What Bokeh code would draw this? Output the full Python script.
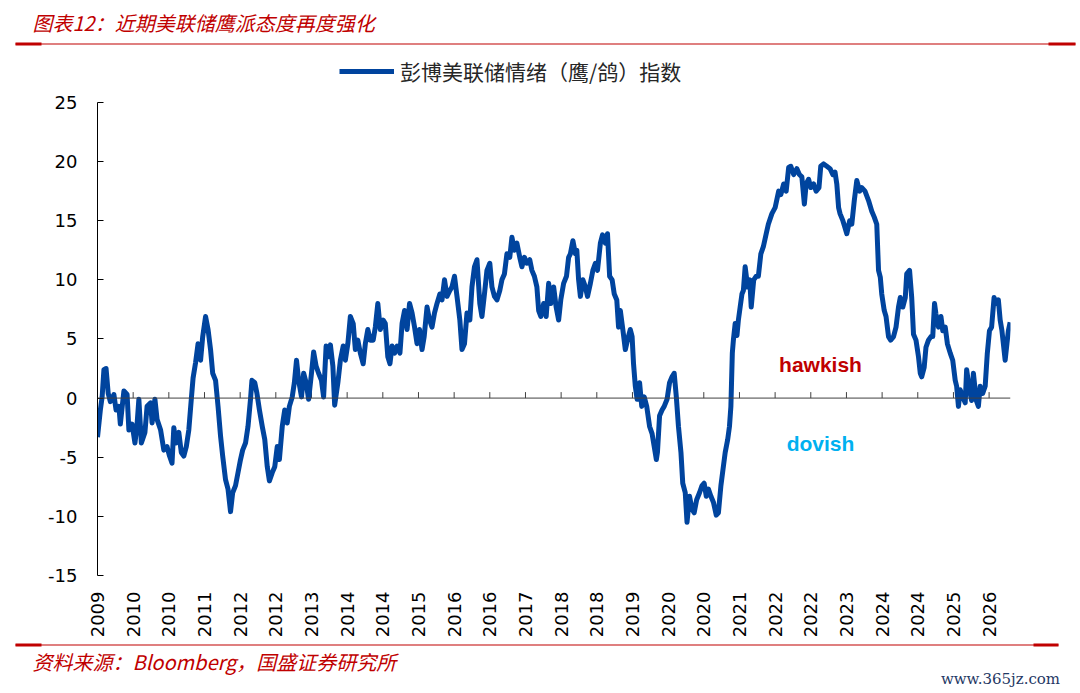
from math import pi
from bokeh.plotting import figure
from bokeh.layouts import column
from bokeh.models import (LinearAxis, FixedTicker, Label, BoxAnnotation, Span,
                          Legend, LegendItem, Range1d)
from bokeh.embed import file_html
from bokeh.resources import INLINE

# 横轴标签（与原图一致，存在重复年份）
x_labels = ["2009", "2010", "2010", "2011", "2012", "2012", "2013", "2014", "2014",
            "2015", "2016", "2016", "2017", "2018", "2018", "2019", "2020", "2020",
            "2021", "2022", "2022", "2023", "2024", "2024", "2025", "2026"]
y_ticks = [-15, -10, -5, 0, 5, 10, 15, 20, 25]

# 彭博美联储情绪指数：位置（以横轴标签间隔为单位）与数值
t_pos = [0.00, 0.08, 0.13, 0.18, 0.24, 0.30, 0.36, 0.46, 0.52, 0.60, 0.64, 0.74, 0.83, 0.88, 0.97,
         1.05, 1.11, 1.16, 1.23, 1.33, 1.39, 1.49, 1.53, 1.61, 1.67, 1.77, 1.86, 1.95, 2.02, 2.09,
         2.14, 2.20, 2.28, 2.35, 2.42, 2.49, 2.56, 2.63, 2.68, 2.75, 2.82, 2.89, 2.95, 3.03, 3.10,
         3.17, 3.23, 3.31, 3.38, 3.45, 3.51, 3.59, 3.66, 3.73, 3.79, 3.87, 3.94, 4.01, 4.07, 4.15,
         4.22, 4.29, 4.33, 4.41, 4.47, 4.54, 4.62, 4.69, 4.76, 4.82, 4.90, 4.97, 5.04, 5.10, 5.18,
         5.25, 5.32, 5.38, 5.46, 5.52, 5.58, 5.64, 5.72, 5.78, 5.85, 5.92, 6.00, 6.06, 6.13, 6.20,
         6.28, 6.34, 6.41, 6.48, 6.53, 6.60, 6.65, 6.74, 6.81, 6.89, 6.95, 7.02, 7.09, 7.17, 7.23,
         7.30, 7.37, 7.45, 7.51, 7.58, 7.65, 7.73, 7.79, 7.86, 7.93, 8.01, 8.07, 8.14, 8.20, 8.26,
         8.33, 8.40, 8.48, 8.54, 8.61, 8.68, 8.75, 8.82, 8.89, 8.96, 9.03, 9.10, 9.16, 9.24, 9.31,
         9.38, 9.45, 9.52, 9.60, 9.66, 9.73, 9.80, 9.88, 9.94, 10.01, 10.08, 10.16, 10.22, 10.29,
         10.36, 10.44, 10.50, 10.57, 10.64, 10.72, 10.78, 10.85, 10.92, 11.00, 11.06, 11.13, 11.20,
         11.28, 11.34, 11.41, 11.48, 11.56, 11.62, 11.69, 11.76, 11.84, 11.90, 11.97, 12.04, 12.12,
         12.18, 12.25, 12.32, 12.37, 12.43, 12.51, 12.58, 12.65, 12.71, 12.79, 12.86, 12.93, 12.99,
         13.07, 13.15, 13.21, 13.26, 13.33, 13.40, 13.44, 13.49, 13.54, 13.61, 13.68, 13.74, 13.82,
         13.89, 13.96, 14.02, 14.10, 14.16, 14.24, 14.30, 14.36, 14.43, 14.49, 14.56, 14.61, 14.66,
         14.73, 14.80, 14.86, 14.94, 14.99, 15.03, 15.08, 15.13, 15.20, 15.26, 15.33, 15.40, 15.48,
         15.55, 15.61, 15.67, 15.70, 15.76, 15.83, 15.89, 15.97, 16.04, 16.11, 16.17, 16.23, 16.29,
         16.36, 16.41, 16.48, 16.53, 16.60, 16.67, 16.73, 16.80, 16.88, 16.95, 17.01, 17.07, 17.13,
         17.20, 17.27, 17.35, 17.41, 17.48, 17.54, 17.60, 17.67, 17.72, 17.76, 17.80, 17.83, 17.88,
         17.93, 17.97, 18.02, 18.07, 18.11, 18.16, 18.23, 18.29, 18.33, 18.40, 18.47, 18.53, 18.60,
         18.67, 18.75, 18.81, 18.91, 19.00, 19.10, 19.16, 19.24, 19.31, 19.38, 19.44, 19.52, 19.61,
         19.68, 19.75, 19.82, 19.87, 19.94, 20.00, 20.08, 20.15, 20.23, 20.28, 20.36, 20.45, 20.54,
         20.62, 20.68, 20.73, 20.78, 20.82, 20.90, 20.96, 21.01, 21.09, 21.15, 21.22, 21.29, 21.37,
         21.43, 21.52, 21.62, 21.71, 21.78, 21.85, 21.90, 21.95, 21.99, 22.06, 22.11, 22.18, 22.24,
         22.32, 22.39, 22.46, 22.51, 22.58, 22.65, 22.69, 22.77, 22.83, 22.88, 22.95, 23.02, 23.07,
         23.11, 23.18, 23.23, 23.30, 23.37, 23.42, 23.47, 23.51, 23.58, 23.65, 23.70, 23.77, 23.83,
         23.91, 23.98, 24.05, 24.09, 24.14, 24.19, 24.26, 24.33, 24.37, 24.45, 24.51, 24.56, 24.64,
         24.70, 24.75, 24.82, 24.89, 24.95, 25.01, 25.07, 25.14, 25.20, 25.26, 25.31, 25.36, 25.40,
         25.45, 25.50, 25.54, 25.59]
fed_index = [-3.3, -1.0, 0.1, 2.4, 2.5, 0.4, -0.3, 0.3, -1.0, -0.7, -2.2, 0.6, 0.3, -2.7, -2.2,
             -3.8, -2.2, -0.1, -3.8, -2.9, -0.7, -0.4, -2.1, -0.1, -1.8, -2.7, -4.4, -4.1, -4.9, -5.5,
             -2.5, -3.8, -2.9, -4.6, -4.9, -4.1, -2.7, -0.1, 1.7, 3.0, 4.6, 3.2, 5.2, 6.9, 5.8,
             4.1, 2.1, 1.5, -0.7, -3.2, -4.9, -6.9, -7.7, -9.6, -8.0, -7.4, -6.3, -5.2, -4.4, -3.8,
             -2.4, -0.1, 1.5, 1.3, 0.4, -1.0, -2.4, -3.5, -5.8, -7.0, -6.3, -5.8, -4.1, -5.2, -2.4,
             -1.0, -2.1, -0.7, 0.1, 1.3, 3.2, 1.5, 0.1, 2.1, 1.3, -0.1, 2.1, 3.9, 2.7, 2.1,
             1.5, 0.1, 4.4, 3.5, 4.5, 2.7, -0.6, 1.3, 3.2, 4.4, 3.2, 4.6, 6.9, 6.3, 4.1,
             4.9, 3.8, 2.9, 4.6, 5.8, 4.9, 4.9, 6.0, 8.0, 5.8, 6.6, 6.3, 3.5, 2.9, 4.4,
             3.8, 4.4, 3.8, 6.3, 7.4, 5.8, 8.0, 7.2, 6.0, 4.6, 5.8, 4.1, 5.2, 7.7, 6.6,
             6.0, 7.2, 8.0, 8.8, 8.3, 10.0, 8.6, 9.1, 9.4, 10.3, 8.6, 6.6, 4.1, 4.6,
             7.2, 6.6, 9.4, 11.1, 11.7, 8.0, 6.9, 8.8, 10.8, 11.4, 9.4, 8.6, 8.3,
             9.1, 10.0, 10.5, 12.2, 11.9, 13.6, 12.5, 13.1, 11.9, 11.1, 11.9, 11.4, 11.7,
             10.8, 10.3, 9.4, 7.4, 6.9, 8.0, 6.9, 9.7, 8.0, 9.4, 7.7, 6.6, 8.3,
             9.7, 10.3, 11.9, 12.2, 13.3, 12.2, 12.5, 10.0, 8.6, 10.0, 9.4, 8.6, 9.7,
             10.8, 11.4, 10.8, 13.1, 13.8, 13.1, 13.9, 10.3, 10.0, 8.8, 8.3, 6.0, 7.4,
             5.8, 4.1, 4.9, 5.8, 5.2, 2.9, 1.0, -0.1, 1.3, -0.7, 0.1, -0.7, -2.4,
             -3.0, -4.1, -5.2, -4.6, -1.5, -1.0, -0.7, -0.1, 1.3, 1.8, 2.1, 0.1, -2.4,
             -4.6, -7.2, -8.0, -10.5, -8.3, -9.4, -9.7, -8.6, -8.0, -7.4, -7.2, -8.3, -7.7,
             -8.3, -8.8, -9.9, -9.7, -7.4, -6.0, -4.6, -3.5, -2.4, -0.7, 3.8, 4.9, 6.3,
             5.3, 6.6, 7.7, 8.8, 9.1, 11.1, 9.4, 10.0, 7.7, 10.0, 10.3, 10.3, 12.2,
             12.8, 13.9, 14.7, 15.6, 16.1, 17.5, 17.2, 18.1, 17.5, 19.5, 19.6, 18.9, 19.4,
             18.9, 18.7, 16.4, 18.1, 18.5, 17.8, 18.1, 17.5, 17.8, 19.6, 19.8, 19.6, 19.4,
             18.9, 19.1, 18.1, 16.1, 15.6, 15.0, 14.4, 13.9, 15.0, 14.7, 16.7, 18.4, 17.5,
             17.8, 17.5, 16.7, 15.8, 15.3, 14.7, 10.8, 10.2, 8.8, 7.4, 6.9, 5.2, 4.9,
             5.2, 6.0, 7.7, 8.5, 7.7, 8.5, 10.5, 10.8, 8.5, 5.4, 4.9, 3.5, 2.1,
             1.8, 2.6, 4.3, 4.9, 5.2, 5.2, 8.0, 7.1, 6.0, 6.9, 5.7, 6.0, 4.6,
             3.8, 3.2, 1.5, 1.0, -0.7, 0.7, 0.1, -0.4, 2.4, 0.7, -0.2, 2.1, -0.2,
             -0.7, 1.0, 0.4, 1.0, 3.8, 5.7, 6.0, 8.5, 8.0, 8.3, 6.6, 5.7, 4.6,
             3.2, 4.6, 5.7, 6.4]

RED = "#C00000"
BLUE = "#00449E"
X_END = 25.6
W = 1080
HEAD_H = 52
MAIN_H = 588
FOOT_H = 693 - HEAD_H - MAIN_H
PX_PER_UNIT = 474 / 40      # 纵轴每单位像素
FRAME_TOP = 54              # 主图绘图区顶部（页面像素）


def strip(h, y_top):
    # 只用于放文字和红线的窄条，坐标即页面像素
    f = figure(width=W, height=h, x_range=Range1d(0, W), y_range=Range1d(y_top + h, y_top),
               x_axis_type=None, y_axis_type=None, toolbar_location=None,
               output_backend="svg", min_border=0, frame_align=False)
    f.outline_line_color = None
    return f


def red_rule(f, x0, x1, y, thick_left, thick_right):
    f.add_layout(BoxAnnotation(left=x0, right=x1, top=y - 0.6, bottom=y + 0.6,
                               fill_color=RED, fill_alpha=1, line_color=None))
    for a, b in (thick_left, thick_right):
        f.add_layout(BoxAnnotation(left=a, right=b, top=y - 1.4, bottom=y + 1.6,
                                   fill_color=RED, fill_alpha=1, line_color=None))


# 顶部：标题 + 红线
head = strip(HEAD_H, 0)
head.add_layout(Label(x=32, y=22, text="图表12：近期美联储鹰派态度再度强化",
                      text_font="Noto Sans CJK SC", text_font_size="20px",
                      text_font_style="italic", text_color=RED, text_baseline="middle"))
red_rule(head, 15, 1075, 43.5, (15, 41), (1048, 1075))

# 主图（绘图区向上留出图例位置，纵轴线只画到25）
p = figure(width=W, height=MAIN_H,
           x_range=Range1d(0, X_END),
           y_range=Range1d(-15, 25 + (102 - FRAME_TOP) / PX_PER_UNIT),
           x_axis_type=None, y_axis_type=None,
           toolbar_location=None, output_backend="svg",
           min_border_left=97, min_border_right=70,
           min_border_top=FRAME_TOP - HEAD_H, min_border_bottom=64,
           frame_align=False)
p.outline_line_color = None


def sx(px):
    return (px - 97) / (1010 - 97) * X_END


def sy(py):
    return 25 - (py - 102) / PX_PER_UNIT


yaxis = LinearAxis(ticker=FixedTicker(ticks=y_ticks), bounds=(-15, 25),
                   major_label_overrides={v: str(v) for v in y_ticks},
                   major_tick_in=6, major_tick_out=0,
                   axis_line_color="black", major_tick_line_color="black",
                   major_label_standoff=20,
                   major_label_text_font="DejaVu Sans",
                   major_label_text_font_size="18px",
                   major_label_text_color="black")
p.add_layout(yaxis, "left")

tick_idx = list(range(len(x_labels)))
label_axis = LinearAxis(ticker=FixedTicker(ticks=tick_idx),
                        major_label_overrides={i: s for i, s in enumerate(x_labels)},
                        major_label_orientation=pi / 2,
                        axis_line_color=None, major_tick_line_color=None,
                        major_tick_in=0, major_tick_out=0,
                        major_label_standoff=16,
                        major_label_text_font="DejaVu Sans",
                        major_label_text_font_size="18px",
                        major_label_text_color="black")
p.add_layout(label_axis, "below")

# 零轴及向上的刻度
p.add_layout(Span(location=0, dimension="width", line_color="#404040", line_width=1))
tick_len = 6 / PX_PER_UNIT
p.segment(x0=tick_idx, y0=[0] * len(tick_idx), x1=tick_idx, y1=[tick_len] * len(tick_idx),
          line_color="#404040", line_width=1)

line = p.line(t_pos, fed_index, line_width=5, line_color=BLUE, line_join="round")

legend = Legend(items=[LegendItem(label="彭博美联储情绪（鹰/鸽）指数", renderers=[line])],
                location=(242, 489), glyph_width=55, glyph_height=20,
                label_standoff=6, padding=0, margin=0, spacing=0,
                border_line_color=None, background_fill_alpha=0,
                label_text_font="Noto Sans CJK SC", label_text_font_size="21px",
                label_text_color="#262626")
p.add_layout(legend)

p.add_layout(Label(x=sx(820), y=sy(365), text="hawkish", text_font="Liberation Sans",
                   text_font_size="21px", text_font_style="bold", text_color=RED,
                   text_align="center", text_baseline="middle"))
p.add_layout(Label(x=sx(820), y=sy(444), text="dovish", text_font="Liberation Sans",
                   text_font_size="21px", text_font_style="bold", text_color="#00B0F0",
                   text_align="center", text_baseline="middle"))

# 底部：红线 + 资料来源 + 水印
foot = strip(FOOT_H, HEAD_H + MAIN_H)
red_rule(foot, 15, 1058, 644.5, (15, 41), (1033, 1058))
foot.add_layout(Label(x=32, y=661, text="资料来源：Bloomberg，国盛证券研究所",
                      text_font="Noto Sans CJK SC", text_font_size="20px",
                      text_font_style="italic", text_color=RED, text_baseline="middle"))
foot.add_layout(Label(x=1000, y=678, text="www.365jz.com", text_font="DejaVu Serif",
                      text_font_size="15px", text_color="#1F3864",
                      text_align="center", text_baseline="middle"))

page = column(head, p, foot, spacing=0)
open("out.html", "w", encoding="utf-8").write(file_html(page, INLINE))
